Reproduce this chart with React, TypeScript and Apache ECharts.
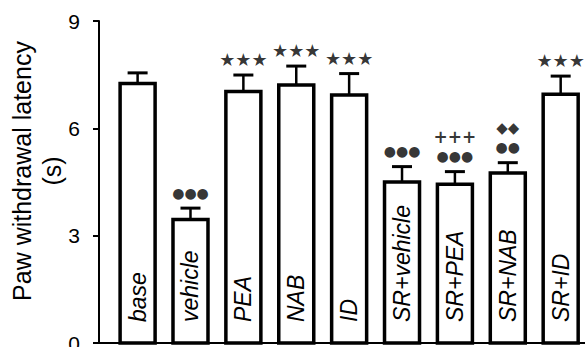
import React, { useEffect, useRef } from "react";
import * as echarts from "echarts";

const categories = ["base", "vehicle", "PEA", "NAB", "ID", "SR+vehicle", "SR+PEA", "SR+NAB", "SR+ID"];
const means = [7.25, 3.45, 7.03, 7.21, 6.93, 4.5, 4.44, 4.75, 6.95];
const errors = [0.3, 0.32, 0.46, 0.53, 0.6, 0.43, 0.35, 0.29, 0.51];
const markers = ["", "●●●", "★★★", "★★★", "★★★", "●●●", "+++\n●●●", "◆◆\n●●", "★★★"];
const yTitle = "Paw withdrawal latency";
const yUnit = "(s)";
const yMin = 0;
const yMax = 9;
const yInterval = 3;

const FONT = "'Liberation Sans', Arial, Helvetica, sans-serif";

function richMarker(text: string): string {
  return text
    .split("\n")
    .map((line) => {
      if (!line) return line;
      if (line.includes("★")) return `{s|${line}}`;
      if (line.includes("+")) return `{p|${line}}`;
      if (line.includes("◆")) return `{m|${line}}`;
      return `{d|${line}}`;
    })
    .join("\n");
}

export default function App() {
  const ref = useRef<HTMLDivElement>(null);
  useEffect(() => {
    if (!ref.current) return;
    document.body.style.margin = "0";
    const chart = echarts.init(ref.current, null, { renderer: "svg" });
    const barData = means.map((v, i) => [i, v, errors[i]]);
    const markData = means.map((v, i) => [i, v + errors[i]]);
    chart.setOption({
      animation: false,
      backgroundColor: "#fff",
      grid: { left: 99, right: 0, top: 21, bottom: 4, containLabel: false, outerBoundsMode: "none" },
      graphic: [
        {
          type: "text",
          x: 22,
          y: 171,
          rotation: Math.PI / 2,
          style: {
            text: yTitle,
            fontFamily: FONT,
            fontSize: 25,
            fill: "#000",
            align: "center",
            verticalAlign: "middle",
          },
        },
        {
          type: "text",
          x: 52,
          y: 171,
          rotation: Math.PI / 2,
          style: {
            text: yUnit,
            fontFamily: FONT,
            fontSize: 25,
            fill: "#000",
            align: "center",
            verticalAlign: "middle",
          },
        },
      ],
      xAxis: {
        type: "value",
        min: -0.73,
        max: 8.46,
        axisLine: { show: true, onZero: false, lineStyle: { color: "#000", width: 2 } },
        axisTick: { show: false },
        axisLabel: { show: false },
        splitLine: { show: false },
      },
      yAxis: {
        type: "value",
        min: yMin,
        max: yMax,
        interval: yInterval,
        axisLine: { show: true, onZero: false, lineStyle: { color: "#000", width: 2 } },
        axisTick: { show: true, inside: false, length: 6, lineStyle: { color: "#000", width: 2 } },
        axisLabel: { fontFamily: FONT, fontSize: 21, color: "#000", margin: 19 },
        splitLine: { show: false },
      },
      series: [
        {
          type: "custom",
          data: barData,
          z: 3,
          renderItem: (params: any, api: any) => {
            const x = api.value(0);
            const v = api.value(1);
            const e = api.value(2);
            const base = api.coord([x, 0]);
            const top = api.coord([x, v]);
            const hi = api.coord([x, v + e]);
            const bw = 35;
            return {
              type: "group",
              children: [
                {
                  type: "line",
                  shape: { x1: top[0], y1: top[1], x2: hi[0], y2: hi[1] },
                  style: { stroke: "#000", lineWidth: 2.5 },
                },
                {
                  type: "line",
                  shape: { x1: hi[0] - 10, y1: hi[1], x2: hi[0] + 10, y2: hi[1] },
                  style: { stroke: "#000", lineWidth: 3 },
                },
                {
                  type: "rect",
                  shape: { x: base[0] - bw / 2, y: top[1], width: bw, height: base[1] - top[1] },
                  style: { fill: "#fff", stroke: "#000", lineWidth: 3.5 },
                },
                {
                  type: "text",
                  x: base[0],
                  y: base[1] - 21,
                  rotation: Math.PI / 2,
                  style: {
                    text: categories[params.dataIndex],
                    fontFamily: FONT,
                    fontStyle: "italic",
                    fontSize: 23,
                    fill: "#000",
                    align: "left",
                    verticalAlign: "middle",
                  },
                },
              ],
            };
          },
        },
        {
          type: "scatter",
          data: markData,
          symbolSize: 0,
          z: 4,
          label: {
            show: true,
            formatter: (p: any) => richMarker(markers[p.dataIndex]),
            position: "top",
            distance: 6,
            color: "#000",
            rich: {
              s: { fontFamily: "'DejaVu Sans', sans-serif", fontSize: 18, lineHeight: 19, color: "#000" },
              d: { fontFamily: "'DejaVu Sans', sans-serif", fontSize: 14, lineHeight: 19, color: "#000" },
              p: { fontFamily: "'DejaVu Sans', sans-serif", fontSize: 17, fontWeight: "bold", lineHeight: 19, color: "#000" },
              m: { fontFamily: "'DejaVu Sans', sans-serif", fontSize: 15, lineHeight: 19, color: "#000" },
            },
          },
        },
      ],
    });
    return () => chart.dispose();
  }, []);
  return <div ref={ref} style={{ width: 585, height: 347 }} />;
}
